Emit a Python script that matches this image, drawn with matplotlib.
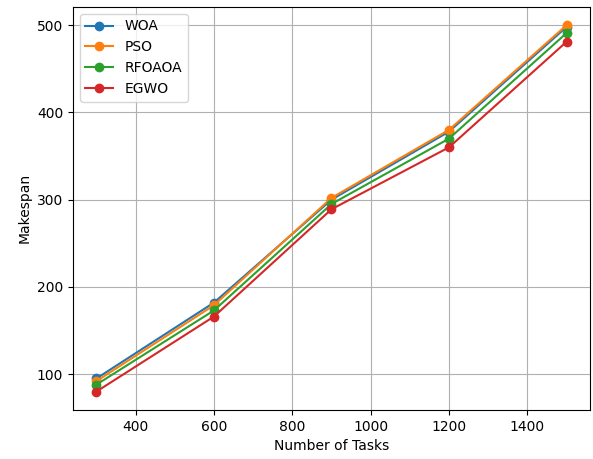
import matplotlib
matplotlib.use("Agg")
import matplotlib.pyplot as plt

tasks = [300, 600, 900, 1200, 1500]
woa = [95, 182, 300, 378, 498]
pso = [92, 179, 302, 380, 500]
rfoaoa = [88, 173, 295, 370, 491]
egwo = [80, 166, 289, 360, 481]

fig = plt.figure(figsize=(5.93, 4.59), dpi=100)
ax = fig.add_axes([0.123, 0.107, 0.872, 0.878])
ax.plot(tasks, woa, marker='o', label='WOA')
ax.plot(tasks, pso, marker='o', label='PSO')
ax.plot(tasks, rfoaoa, marker='o', label='RFOAOA')
ax.plot(tasks, egwo, marker='o', label='EGWO')
ax.set_xlabel('Number of Tasks')
ax.set_ylabel('Makespan')
ax.grid(True)
ax.legend(loc='upper left')
fig.savefig('out.png', dpi=100)
